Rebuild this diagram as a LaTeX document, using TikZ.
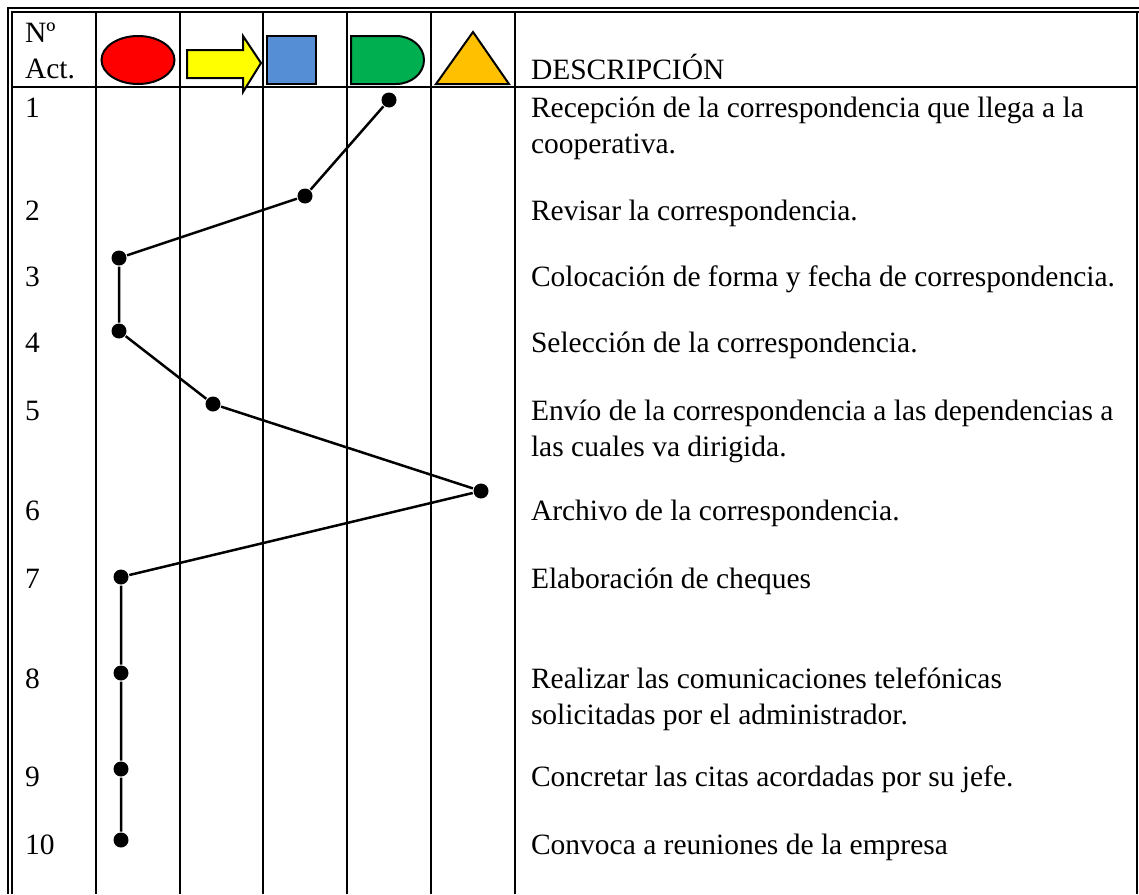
\documentclass[tikz,border=0pt]{standalone}
\usepackage{fontspec}
\setmainfont{Liberation Serif}
\usepackage{xcolor}
\usetikzlibrary{positioning}

\definecolor{opred}{HTML}{FF0000}
\definecolor{opyellow}{HTML}{FFFF00}
\definecolor{opblue}{HTML}{558ED5}
\definecolor{opgreen}{HTML}{00B050}
\definecolor{oporange}{HTML}{FFC000}

\begin{document}
\begin{tikzpicture}[x=1pt, y=-1pt, line width=2pt,
    dot/.style={circle, fill=black, inner sep=0pt, minimum size=15pt},
    txt/.style={anchor=base west, inner sep=0pt, font=\fontsize{29.5}{34}\selectfont},
    sym/.style={draw=black, line width=2pt}]
            \useasboundingbox (0,0) rectangle (1139,894);

            % frame and columns
            \draw (8,894) -- (8,8) -- (1139,8);
            \draw (12,894) -- (12,12) -- (1139,12);
            \draw (1137,12) -- (1137,894);
            \draw (12,87) -- (1137,87);
            \draw (96,12) -- (96,894);
            \draw (180,12) -- (180,894);
            \draw (263,12) -- (263,894);
            \draw (347,12) -- (347,894);
            \draw (431,12) -- (431,894);
            \draw (515,12) -- (515,894);

            % header symbols
            \draw[sym, fill=opred] (138,60) ellipse [x radius=36.5, y radius=24];
            \draw[sym, fill=opyellow] (187,50) -- (243,50) -- (243,36) -- (261,63) -- (243,92) -- (243,78) -- (187,78) -- cycle;
            \draw[sym, fill=opblue] (267,36) rectangle (316,84);
            \draw[sym, fill=opgreen] (351,36) -- (396,36) arc[start angle=-90, end angle=90, x radius=28, y radius=24] -- (351,84) -- cycle;
            \draw[sym, fill=oporange] (473,32) -- (509,84) -- (436,84) -- cycle;

            \node[txt] (no) at (24,42) {Nº};
            \node[txt] (act) at (24,78) {Act.};
            \node[txt] (desc) at (530,79) {DESCRIPCIÓN};

            % rows
            \node[txt] (n1) at (24,117) {1};
            \node[txt] (n2) at (24,220) {2};
            \node[txt] (n3) at (24,286) {3};
            \node[txt] (n4) at (24,352) {4};
            \node[txt] (n5) at (24,420) {5};
            \node[txt] (n6) at (24,520) {6};
            \node[txt] (n7) at (24,588) {7};
            \node[txt] (n8) at (24,688) {8};
            \node[txt] (n9) at (24,786) {9};
            \node[txt] (n10) at (24,854) {10};

            \node[txt] (d1) at (530,117) {Recepción de la correspondencia que llega a la};
            \node[txt] (d1b) at (530,153) {cooperativa.};
            \node[txt] (d2) at (530,220) {Revisar la correspondencia.};
            \node[txt] (d3) at (530,286) {Colocación de forma y fecha de correspondencia.};
            \node[txt] (d4) at (530,352) {Selección de la correspondencia.};
            \node[txt] (d5) at (530,420) {Envío de la correspondencia a las dependencias a};
            \node[txt] (d5b) at (530,456) {las cuales va dirigida.};
            \node[txt] (d6) at (530,520) {Archivo de la correspondencia.};
            \node[txt] (d7) at (530,588) {Elaboración de cheques};
            \node[txt] (d8) at (530,688) {Realizar las comunicaciones telefónicas};
            \node[txt] (d8b) at (530,724) {solicitadas por el administrador.};
            \node[txt] (d9) at (530,786) {Concretar las citas acordadas por su jefe.};
            \node[txt] (d10) at (530,854) {Convoca a reuniones de la empresa};

            % route
            \node[dot] (p1) at (389,100) {};
            \node[dot] (p2) at (305,196) {};
            \node[dot] (p3) at (119,258) {};
            \node[dot] (p4) at (119,331) {};
            \node[dot] (p5) at (213,404) {};
            \node[dot] (p6) at (481,491) {};
            \node[dot] (p7) at (121,577) {};
            \node[dot] (p8) at (121,673) {};
            \node[dot] (p9) at (121,769) {};
            \node[dot] (p10) at (121,840) {};
            \draw[line width=2.5pt] (p1) -- (p2) -- (p3) -- (p4) -- (p5) -- (p6) -- (p7) -- (p8) -- (p9) -- (p10);
        \end{tikzpicture}
\end{document}
